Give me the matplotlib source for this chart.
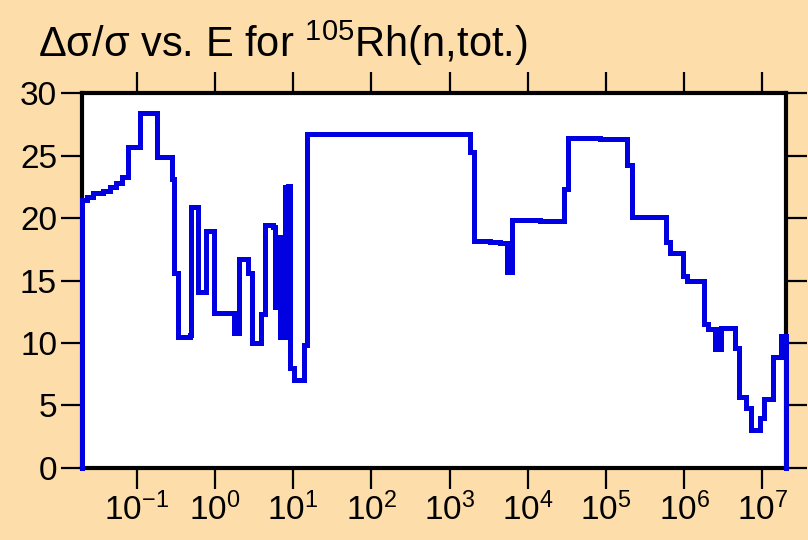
import math
import matplotlib
matplotlib.use("Agg")
import matplotlib.pyplot as plt
from matplotlib.ticker import FixedLocator, FuncFormatter, NullLocator

# step edges (eV) and relative uncertainty (%)
energy = [0.02, 0.0232, 0.0277, 0.0372, 0.0456, 0.054, 0.0644, 0.0782, 0.110,
          0.180, 0.286, 0.296, 0.341, 0.474, 0.491, 0.614, 0.770, 0.976, 1.76,
          2.06, 2.68, 2.96, 3.86, 4.38, 5.59, 5.88, 6.48, 6.81, 7.11, 7.44,
          7.89, 8.25, 8.62, 9.14, 10.4, 13.8, 15.2, 1830, 2060, 3300, 4430,
          5400, 6250, 14400, 28600, 32200, 84100, 184600, 213800, 587000,
          661000, 978000, 1.08e6, 1.80e6, 2.04e6, 2.49e6, 2.64e6, 2.80e6,
          2.97e6, 4.48e6, 4.94e6, 6.19e6, 7.11e6, 9.35e6, 1.05e7, 1.38e7,
          1.72e7, 2.0e7]
unc = [21.45, 21.7, 22.0, 22.2, 22.5, 22.8, 23.3, 25.7, 28.4,
       24.9, 23.1, 15.6, 10.5, 10.6, 20.9, 14.1, 19.0, 12.4, 10.8,
       16.7, 15.6, 10.0, 12.3, 19.45, 19.3, 12.9, 18.5, 10.5, 18.5, 10.5,
       22.5, 10.5, 22.6, 8.0, 7.05, 9.8, 26.75, 25.3, 18.2, 18.1, 18.0,
       15.7, 19.85, 19.8, 22.3, 26.45, 26.35, 24.25, 20.1, 18.1,
       17.2, 15.4, 15.0, 11.5, 11.1, 9.5, 11.1, 9.5,
       11.2, 9.6, 5.64, 4.76, 3.0, 4.0, 5.5, 8.9,
       10.55, 0.0]

xticks = [1e-1, 1e0, 1e1, 1e2, 1e3, 1e4, 1e5, 1e6, 1e7]
yticks = [0, 5, 10, 15, 20, 25, 30]

fonts = ['Liberation Sans', 'DejaVu Sans']
plt.rcParams['font.family'] = fonts
plt.rcParams['mathtext.fontset'] = 'custom'
plt.rcParams['mathtext.rm'] = fonts[0]
plt.rcParams['mathtext.it'] = fonts[0]
plt.rcParams['mathtext.sf'] = fonts[0]
plt.rcParams['axes.unicode_minus'] = False

bg = '#fddeab'
fig = plt.figure(figsize=(8.08, 5.40), dpi=100, facecolor=bg)
ax = fig.add_axes([0.1015, 0.1339, 0.8713, 0.6933])
ax.set_facecolor('white')

# vertical from zero at the left edge, then the steps
ax.step([energy[0]] + energy, [0.0] + unc, where='post', color='#0000e0',
        lw=3.6, zorder=5, clip_on=False, solid_joinstyle='miter')

ax.set_xscale('log')
ax.set_xlim(2e-2, 2e7)
ax.set_ylim(0, 30)
ax.xaxis.set_major_locator(FixedLocator(xticks))
ax.xaxis.set_minor_locator(NullLocator())
ax.xaxis.set_major_formatter(FuncFormatter(
    lambda v, p: r'$\mathregular{10^{%d}}$' % round(math.log10(v))))
ax.set_yticks(yticks)

for s in ax.spines.values():
    s.set_linewidth(3)
ax.tick_params(axis='both', which='major', direction='out', length=15,
               width=1.6, labelsize=24, pad=3, top=True, right=True)

fig.text(0.047, 0.895, 'Δσ/σ vs. E for $^{\\mathregular{105}}$Rh(n,tot.)',
         fontsize=30, ha='left', va='baseline')

fig.savefig('out.png', dpi=100, facecolor=bg)
